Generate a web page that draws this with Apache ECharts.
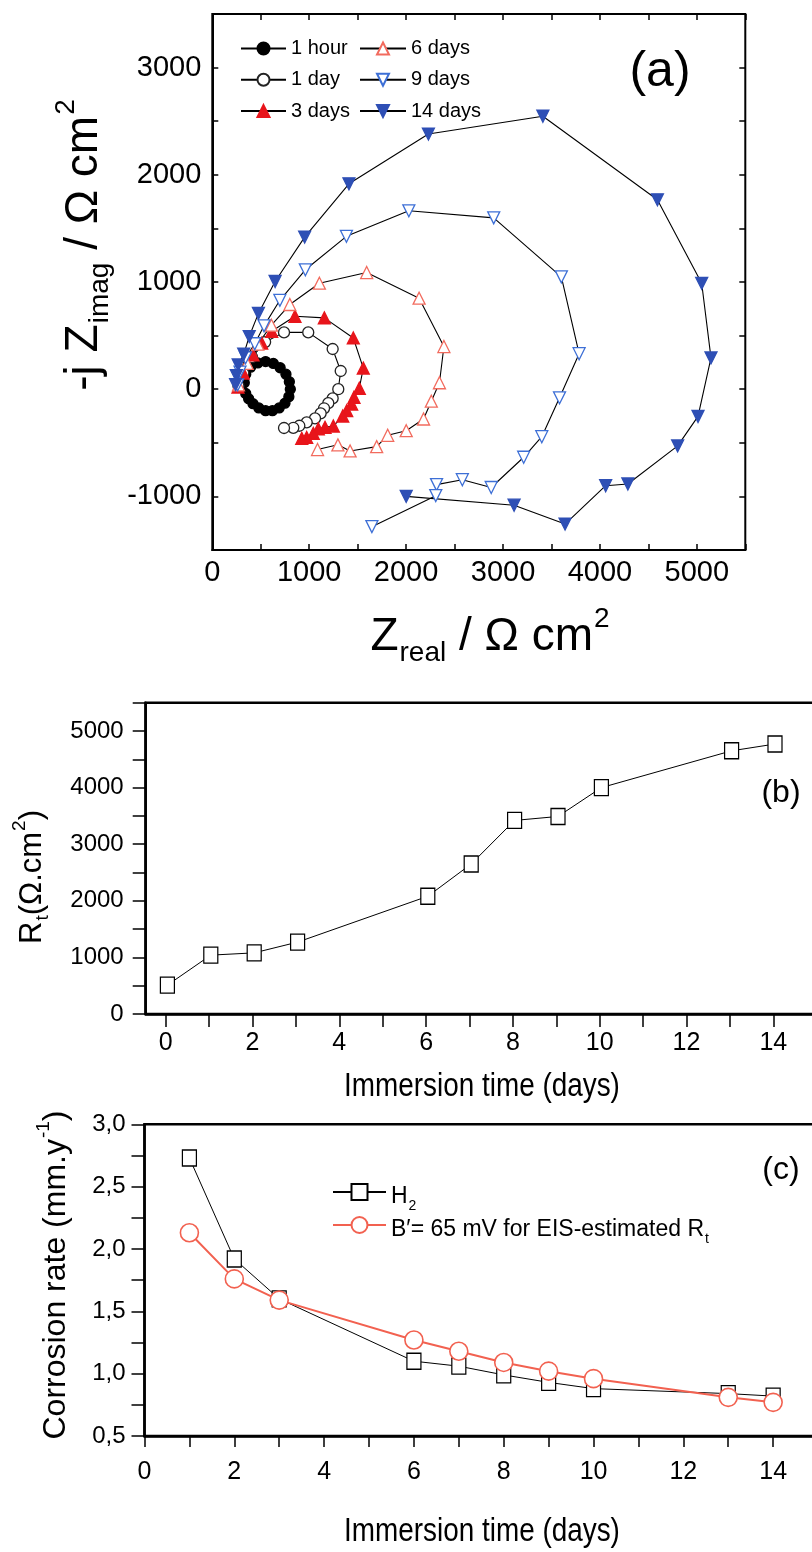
<!DOCTYPE html>
<html>
<head>
<meta charset="utf-8">
<script src="https://cdn.jsdelivr.net/npm/echarts@6/dist/echarts.min.js"></script>
<style>
html, body {margin:0; padding:0; background:#fff;}
#main {width:812px; height:1552px;}
</style>
</head>
<body>
<div id="main"></div>
<script>
// (a) Nyquist data, pairs of [Z real, -j Z imag] in ohm.cm2
const zHour1 = [[330,60],[345,140],[395,205],[470,245],[550,258],[630,240],[700,200],[760,140],[795,70],
  [805,0],[790,-70],[750,-130],[690,-175],[620,-200],[550,-200],[480,-175],[420,-135],[375,-90],[345,-40]];
const zDay1 = [[270,30],[320,150],[410,300],[545,440],[740,530],[990,530],[1242,375],[1325,170],[1300,0],
  [1242,-85],[1197,-130],[1153,-178],[1118,-225],[1060,-272],[974,-309],[898,-341],[836,-360],[740,-362]];
const zDay3 = [[265,20],[320,150],[420,320],[510,430],[613,540],[853,680],[1156,665],[1455,478],[1558,197],
  [1517,9],[1462,-75],[1438,-138],[1387,-200],[1346,-250],[1249,-344],[1163,-356],[1094,-369],[1042,-412],
  [974,-450],[923,-459]];
const zDay6 = [[270,40],[360,240],[470,420],[610,597],[800,790],[1105,989],[1593,1088],[2134,849],[2390,398],
  [2344,60],[2260,-112],[2180,-278],[2001,-387],[1810,-430],[1696,-536],[1422,-576],[1296,-519],[1086,-563]];
const zDay9 = [[262,40],[286,159],[343,292],[438,424],[534,591],[697,829],[960,1114],[1384,1426],[2028,1664],
  [2904,1598],[3602,1048],[3785,331],[3583,-80],[3400,-443],[3213,-635],[2878,-917],[2580,-844],[2314,-890],
  [2306,-993],[1647,-1282]];
const zDay14 = [[240,43],[248,126],[267,226],[324,326],[381,491],[476,707],[648,1005],[953,1419],[1410,1916],
  [2230,2380],[3411,2546],[4593,1767],[5050,988],[5146,292],[5012,-254],[4802,-529],[4288,-884],[4059,-900],
  [3640,-1258],[3114,-1082],[2001,-1000]];

// (b) charge transfer resistance vs immersion time
const rtDays = [0,1,2,3,6,7,8,9,10,13,14];
const rtValues = [510,1040,1080,1270,2080,2650,3420,3490,4000,4650,4770];

// (c) corrosion rate vs immersion time
const rateDays = [1,2,3,6,7,8,9,10,13,14];
const rateH2 = [2.73,1.92,1.60,1.10,1.06,0.99,0.93,0.88,0.84,0.82];
const rateEIS = [2.13,1.76,1.59,1.27,1.18,1.09,1.02,0.96,0.81,0.77];

const F = "'Liberation Sans', Arial, sans-serif";

// narrow face for the day ticks, if the box has it
function hasFont(name) {
  const c = document.createElement('canvas').getContext('2d');
  c.font = '40px monospace';
  const w = c.measureText('Immersion 0123').width;
  c.font = "40px '" + name + "', monospace";
  return c.measureText('Immersion 0123').width !== w;
}
const narrow = hasFont('Liberation Sans Narrow');
const FX = narrow ? "'Liberation Sans Narrow', 'Liberation Sans', sans-serif" : F;
const dayTickSize = narrow ? 28 : 25;

// rich styles for sub/superscripts, everything is hung from the line top
function rich(S, down, up) {
  const s = Math.round(S * 0.6);
  const P = Math.round(up * S + s / 2 - S / 2);
  return {
    m: {fontSize: S, fontFamily: F, lineHeight: S, verticalAlign: 'top', padding: [P, 0, 0, 0]},
    s: {fontSize: s, fontFamily: F, lineHeight: s, verticalAlign: 'top', padding: [Math.round(P + S / 2 + down * S - s / 2), 0, 0, 1]},
    p: {fontSize: s, fontFamily: F, lineHeight: s, verticalAlign: 'top', padding: [0, 0, 0, 1]}
  };
}

function nyq(name, data, symbol, rot, fill, border, size) {
  return {
    type: 'line', name: name, data: data, xAxisIndex: 0, yAxisIndex: 0,
    symbol: symbol, symbolRotate: rot, symbolSize: size, showSymbol: true, showAllSymbol: true,
    lineStyle: {color: '#000', width: 1.1},
    itemStyle: {color: fill, borderColor: border, borderWidth: 1.3},
    emphasis: {disabled: true}
  };
}

const black = '#000';
const lineSt = w => ({color: black, width: w});
const plain = (x, y, text, size, sx) => ({type: 'text', x: x, y: y, scaleX: sx || 1,
  style: {text: text, fontSize: size, fontFamily: F, fill: black, align: 'center', verticalAlign: 'middle'}});

const chart = echarts.init(document.getElementById('main'), null, {renderer: 'canvas'});
chart.setOption({
  animation: false,
  backgroundColor: '#fff',
  grid: [
    {left: 212.3, top: 14, width: 533, height: 536, show: true, borderColor: black, borderWidth: 2, outerBoundsMode: 'none'},
    {left: 145.7, top: 702.7, width: 694.4, height: 311.3, show: true, borderColor: black, borderWidth: 2.5, outerBoundsMode: 'none'},
    {left: 165.7, top: 702.7, width: 651, height: 311.3, outerBoundsMode: 'none'},
    {left: 144.5, top: 1124.3, width: 696, height: 311.7, show: true, borderColor: black, borderWidth: 2.5, outerBoundsMode: 'none'}
  ],
  xAxis: [
    {gridIndex: 0, type: 'value', position: 'bottom', min: 0, max: 5500, interval: 500,
      axisLine: {show: true, onZero: false, lineStyle: lineSt(2)},
      axisTick: {inside: true, length: 6, lineStyle: lineSt(1.5)},
      axisLabel: {margin: 8, color: black, fontSize: 29, fontFamily: F,
        formatter: v => v % 1000 === 0 ? String(v) : ''},
      splitLine: {show: false}},
    {gridIndex: 0, type: 'value', position: 'top', min: 0, max: 5500, interval: 500,
      axisLine: {show: false, onZero: false},
      axisTick: {inside: true, length: 6, lineStyle: lineSt(1.5)},
      axisLabel: {show: false}, splitLine: {show: false}},
    {gridIndex: 1, type: 'value', min: -0.5, max: 15.5,
      axisLine: {show: true, onZero: false, lineStyle: lineSt(2.5)},
      axisTick: {show: false}, axisLabel: {show: false}, splitLine: {show: false}},
    {gridIndex: 2, type: 'value', min: 0, max: 15, interval: 1,
      axisLine: {show: false, onZero: false},
      axisTick: {inside: false, length: 13, lineStyle: lineSt(1.5)},
      axisLabel: {margin: 17, color: black, fontSize: dayTickSize, fontFamily: FX,
        formatter: v => v % 2 === 0 ? String(v) : ''},
      splitLine: {show: false}},
    {gridIndex: 3, type: 'value', min: 0, max: 15.5, interval: 1,
      axisLine: {show: true, onZero: false, lineStyle: lineSt(2.5)},
      axisTick: {inside: false, length: 11, lineStyle: lineSt(1.5)},
      axisLabel: {margin: 24, color: black, fontSize: dayTickSize, fontFamily: FX,
        formatter: v => v % 2 === 0 ? String(v) : ''},
      splitLine: {show: false}}
  ],
  yAxis: [
    {gridIndex: 0, type: 'value', position: 'left', min: -1500, max: 3500, interval: 500,
      axisLine: {show: true, onZero: false, lineStyle: lineSt(2)},
      axisTick: {inside: true, length: 6, lineStyle: lineSt(1.5)},
      axisLabel: {margin: 11, color: black, fontSize: 29, fontFamily: F,
        formatter: v => v % 1000 === 0 ? String(v) : ''},
      splitLine: {show: false}},
    {gridIndex: 0, type: 'value', position: 'right', min: -1500, max: 3500, interval: 500,
      axisLine: {show: false, onZero: false},
      axisTick: {inside: true, length: 6, lineStyle: lineSt(1.5)},
      axisLabel: {show: false}, splitLine: {show: false}},
    {gridIndex: 1, type: 'value', min: 0, max: 5500, interval: 500,
      axisLine: {show: true, onZero: false, lineStyle: lineSt(2.5)},
      axisTick: {inside: false, length: 13, lineStyle: lineSt(1.5)},
      axisLabel: {margin: 22, color: black, fontSize: 24, fontFamily: F,
        formatter: v => v % 1000 === 0 ? String(v) : ''},
      splitLine: {show: false}},
    {gridIndex: 2, type: 'value', min: 0, max: 1, show: false},
    {gridIndex: 3, type: 'value', min: 0.5, max: 3, interval: 0.25,
      axisLine: {show: true, onZero: false, lineStyle: lineSt(2.5)},
      axisTick: {inside: false, length: 13, lineStyle: lineSt(1.5)},
      axisLabel: {margin: 19, color: black, fontSize: 24, fontFamily: F,
        formatter: v => Math.abs(v * 2 - Math.round(v * 2)) < 1e-6 ? v.toFixed(1).replace('.', ',') : ''},
      splitLine: {show: false}}
  ],
  legend: [
    {data: ['1 hour', '1 day', '3 days'], orient: 'vertical', left: 235, top: 33.5,
      itemWidth: 45, itemHeight: 15, itemGap: 11.3, selectedMode: false,
      textStyle: {color: black, fontSize: 20, fontFamily: F, lineHeight: 15}},
    {data: ['6 days', '9 days', '14 days'], orient: 'vertical', left: 354, top: 33.5,
      itemWidth: 46, itemHeight: 15, itemGap: 11.3, selectedMode: false,
      textStyle: {color: black, fontSize: 20, fontFamily: F, lineHeight: 15}},
    {data: ['H2', 'EIS'], orient: 'vertical', left: 327, top: 1175.5,
      itemWidth: 53, itemHeight: 20, itemGap: 0, selectedMode: false,
      formatter: n => n === 'H2' ? '{m|H}{s|2}' : '{m|B\u2032= 65 mV for EIS-estimated R}{s|t}',
      textStyle: {color: black, fontSize: 23, fontFamily: F, rich: rich(23, 0.43, 0.4)}}
  ],
  graphic: [
    plain(660, 72, '(a)', 50),
    {type: 'text', x: 75, y: 245, rotation: Math.PI / 2,
      style: {text: '{m|-j Z}{s|imag}{m| / \u03A9 cm}{p|2}', rich: rich(46, 0.35, 0.4), fill: black, align: 'center', verticalAlign: 'middle'}},
    {type: 'text', x: 490, y: 628,
      style: {text: '{m|Z}{s|real}{m| / \u03A9 cm}{p|2}', rich: rich(46, 0.35, 0.4), fill: black, align: 'center', verticalAlign: 'middle'}},
    plain(781, 793, '(b)', 32),
    {type: 'text', x: 26, y: 877, rotation: Math.PI / 2,
      style: {text: '{m|R}{s|t}{m|(\u03A9.cm}{p|2}{m|)}', rich: rich(31, 0.35, 0.4), fill: black, align: 'center', verticalAlign: 'middle'}},
    plain(482, 1087, 'Immersion time (days)', 34, 0.82),
    plain(781, 1170, '(c)', 32),
    {type: 'text', x: 50, y: 1275, rotation: Math.PI / 2,
      style: {text: '{m|Corrosion rate (mm.y}{p|-1}{m|)}', rich: rich(32, 0.35, 0.4), fill: black, align: 'center', verticalAlign: 'middle'}},
    plain(482, 1532, 'Immersion time (days)', 34, 0.82)
  ],
  series: [
    nyq('1 hour', zHour1, 'circle', 0, '#000', '#000', 10),
    nyq('1 day', zDay1, 'circle', 0, '#fff', '#222', 11),
    nyq('3 days', zDay3, 'triangle', 0, '#e8151b', '#e8151b', 12),
    nyq('6 days', zDay6, 'triangle', 0, '#fff', '#f26b5e', 12),
    nyq('9 days', zDay9, 'triangle', 180, '#fff', '#3d6fd6', 12),
    nyq('14 days', zDay14, 'triangle', 180, '#2e4fb5', '#2e4fb5', 12),
    {type: 'line', name: 'Rt', xAxisIndex: 2, yAxisIndex: 2,
      data: rtDays.map((d, i) => [d, rtValues[i]]),
      symbol: 'rect', symbolSize: [14, 16], showAllSymbol: true,
      lineStyle: {color: black, width: 1},
      itemStyle: {color: '#fff', borderColor: black, borderWidth: 1.3}},
    {type: 'line', name: 'H2', xAxisIndex: 4, yAxisIndex: 4,
      data: rateDays.map((d, i) => [d, rateH2[i]]),
      symbol: 'rect', symbolSize: [14, 16], showAllSymbol: true,
      lineStyle: {color: black, width: 1},
      itemStyle: {color: '#fff', borderColor: black, borderWidth: 1.3}},
    {type: 'line', name: 'EIS', xAxisIndex: 4, yAxisIndex: 4,
      data: rateDays.map((d, i) => [d, rateEIS[i]]),
      symbol: 'circle', symbolSize: 18, showAllSymbol: true,
      lineStyle: {color: '#f26150', width: 2},
      itemStyle: {color: '#fff', borderColor: '#f26150', borderWidth: 1.6}}
  ]
});
</script>
</body>
</html>
